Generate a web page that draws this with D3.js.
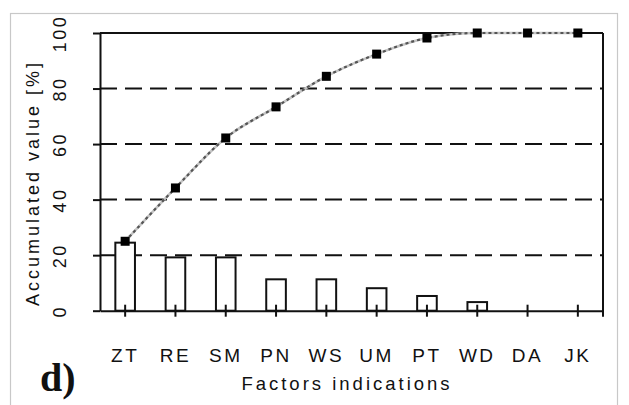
<!DOCTYPE html>
<html>
<head>
<meta charset="utf-8">
<script src="https://cdn.jsdelivr.net/npm/d3@7"></script>
<style>
	body { margin: 0; background: #fff; }
	svg { display: block; }
	.lbl { font-family: "Liberation Sans", Arial, sans-serif; fill: #111; }
</style>
</head>
<body>
<svg id="chart" width="629" height="405"></svg>
<script>
// chart values
const categories = ['ZT', 'RE', 'SM', 'PN', 'WS', 'UM', 'PT', 'WD', 'DA', 'JK'];
const shares = [24.5, 19.2, 19.2, 11.3, 11.3, 8.1, 5.3, 3.1, 0, 0];
const accumulated = [25, 44.2, 62.2, 73.4, 84.4, 92.4, 98.2, 100, 100, 100];
const yTicks = [0, 20, 40, 60, 80, 100];

const svg = d3.select('#chart');
const m = {l: 100, r: 603, t: 33, b: 310.7};

const x = d3.scaleBand().domain(categories).range([m.l, m.r]).padding(0);
const y = d3.scaleLinear().domain([0, 100]).range([m.b, m.t]);
const cx = d => x(d) + x.bandwidth() / 2;

// outer frame
svg.append('rect')
	.attr('x', 10.5).attr('y', 13.5)
	.attr('width', 607).attr('height', 420)
	.style('fill', 'none')
	.style('stroke', '#c8c8c8')
	.style('stroke-width', 1.2);

// grid lines
svg.append('g')
	.selectAll('.grid')
	.data(yTicks.filter(t => t > 0)).enter()
	.append('line')
	.attr('class', 'grid')
	.attr('x1', m.l).attr('x2', m.r)
	.attr('y1', d => y(d)).attr('y2', d => y(d))
	.style('stroke', '#111')
	.style('stroke-width', 2)
	.style('stroke-dasharray', d => d === 100 ? null : '17,8');

// right border
svg.append('line')
	.attr('x1', m.r).attr('x2', m.r)
	.attr('y1', m.t).attr('y2', m.b + 6)
	.style('stroke', '#111')
	.style('stroke-width', 2);

// bars
const barW = x.bandwidth() * 0.39;
svg.append('g')
	.selectAll('.bar')
	.data(categories.map((c, i) => ({c: c, v: shares[i]})).filter(d => d.v > 0)).enter()
	.append('rect')
	.attr('class', 'bar')
	.attr('x', d => cx(d.c) - barW / 2)
	.attr('y', d => y(d.v))
	.attr('width', barW)
	.attr('height', d => y(0) - y(d.v))
	.style('fill', '#fff')
	.style('stroke', '#111')
	.style('stroke-width', 2);

// y axis
const gY = svg.append('g')
	.attr('transform', 'translate(' + m.l + ',0)')
	.call(d3.axisLeft(y).tickValues(yTicks).tickSize(7).tickSizeOuter(0));
gY.select('.domain').style('stroke', '#111').style('stroke-width', 2);
gY.selectAll('.tick line').style('stroke', '#111').style('stroke-width', 2);
gY.selectAll('.tick text')
	.attr('class', 'lbl')
	.attr('x', null).attr('dy', null)
	.attr('transform', 'translate(-40,0) rotate(-90)')
	.attr('text-anchor', 'middle')
	.attr('dominant-baseline', 'central')
	.style('font-size', '18px')
	.style('letter-spacing', '2.5px');

// x axis
const gX = svg.append('g')
	.attr('transform', 'translate(0,' + m.b + ')')
	.call(d3.axisBottom(x).tickSize(6).tickSizeOuter(0));
gX.select('.domain').style('stroke', '#111').style('stroke-width', 2);
gX.selectAll('.tick line').attr('y1', -6).style('stroke', '#111').style('stroke-width', 2);
gX.selectAll('.tick text')
	.attr('class', 'lbl')
	.attr('y', 51).attr('dy', null)
	.style('font-size', '19px')
	.style('letter-spacing', '2.5px');
svg.selectAll('.tick text').style('font-family', '"Liberation Sans", Arial, sans-serif');

// accumulated line
const line = d3.line()
	.x((d, i) => cx(categories[i]))
	.y(d => y(d))
	.curve(d3.curveMonotoneX);
svg.append('path')
	.datum(accumulated)
	.attr('d', line)
	.style('fill', 'none')
	.style('stroke', '#c4c4c4')
	.style('stroke-width', 2.6);
svg.append('path')
	.datum(accumulated)
	.attr('d', line)
	.style('fill', 'none')
	.style('stroke', '#555')
	.style('stroke-width', 2.2)
	.style('stroke-dasharray', '3,3');

// markers
const mk = 9;
svg.append('g')
	.selectAll('.marker')
	.data(accumulated).enter()
	.append('rect')
	.attr('class', 'marker')
	.attr('x', (d, i) => cx(categories[i]) - mk / 2)
	.attr('y', d => y(d) - mk / 2)
	.attr('width', mk).attr('height', mk)
	.style('fill', '#000');

// axis titles
svg.append('text')
	.attr('class', 'lbl')
	.attr('transform', 'translate(33,183) rotate(-90)')
	.attr('text-anchor', 'middle')
	.attr('dominant-baseline', 'central')
	.style('font-size', '18px')
	.style('letter-spacing', '3px')
	.text('Accumulated value [%]');

svg.append('text')
	.attr('class', 'lbl')
	.attr('x', 347).attr('y', 390)
	.attr('text-anchor', 'middle')
	.style('font-size', '18.5px')
	.style('letter-spacing', '3px')
	.text('Factors indications');

svg.append('text')
	.attr('x', 40).attr('y', 391)
	.style('font-family', '"Liberation Serif", "Times New Roman", serif')
	.style('font-weight', 'bold')
	.style('font-size', '40px')
	.style('fill', '#111')
	.text('d)');
</script>
</body>
</html>
